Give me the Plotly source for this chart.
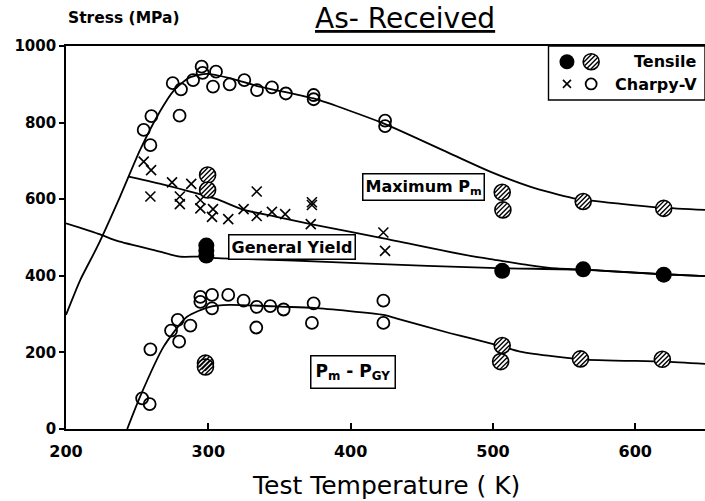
import math
import plotly.graph_objects as go

# ---------------- data ----------------
# Charpy-V open circles: maximum load P_m
cv_max_T = [254.6, 259.3, 260, 275, 279.8, 280.8, 289.3, 295.3, 296, 303.3, 305.4, 315, 325.3, 334.2, 344.7, 354.5, 374, 374, 424.2, 424.2]
cv_max_S = [781, 741, 817, 903, 818, 887, 911, 946, 930, 894, 933, 900, 911, 885, 892, 876, 872, 861, 805, 791]

# Charpy-V open circles: P_m - P_GY
cv_low_T = [253.5, 258.8, 259.3, 273.8, 278.5, 279.5, 287.4, 294.4, 294.4, 302.6, 302.6, 314, 324.8, 333.7, 334, 343.5, 352.9, 372.8, 374, 423, 423]
cv_low_S = [80, 65, 208, 257, 285, 228, 270, 345, 332, 350, 315, 350, 335, 265, 319, 321, 312, 277, 328, 335, 277]

# Charpy-V crosses: general yield
cv_gy_T = [254.6, 259.8, 259.3, 274.5, 280, 280, 288, 294.4, 294.4, 303.3, 302.6, 314, 324.8, 334, 334, 344.7, 354, 372.8, 372.8, 372, 423, 424.2]
cv_gy_S = [698, 676, 607, 644, 607, 587, 640, 598, 576, 574, 554, 548, 574, 620, 556, 567, 561, 592, 585, 535, 513, 465]

# Tensile: general yield (filled)
ten_gy_T = [298.6, 298.6, 298.6, 506.5, 563.4, 620]
ten_gy_S = [479, 466, 453, 413, 417, 403]

# Tensile: maximum (hatched)
ten_max_T = [299.5, 299.5, 506.5, 507, 563.4, 620]
ten_max_S = [663, 624, 618, 572, 594, 576]

# Tensile: P_m - P_GY (hatched)
ten_low_T = [298, 298, 506.5, 505.4, 561.5, 619]
ten_low_S = [172, 162, 218, 176, 183, 182]

# Fitted curves
curve_max_T = [200, 210, 222, 238, 252, 266, 276, 287, 299, 315, 336, 374, 423, 470, 498, 526, 556, 590, 619, 649]
curve_max_S = [298, 389, 476, 607, 728, 829, 885, 918, 927, 916, 894, 863, 798, 719, 672, 633, 603, 588, 578, 572]

curve_cgy_T = [244, 270, 292, 306, 325, 348, 372, 423, 484, 503, 525, 545, 563, 620, 649]
curve_cgy_S = [659, 637, 615, 600, 572, 554, 535, 498, 452, 441, 428, 419, 416, 404, 399]

curve_tgy_T = [200, 224, 236, 266, 280, 294, 306, 360, 404, 503, 563, 620, 649]
curve_tgy_S = [537, 508, 491, 463, 450, 450, 446, 440, 433, 420, 416, 404, 399]

curve_low_T = [243, 252, 268.6, 285, 301, 315, 355, 374, 423, 432, 470, 484, 507, 519, 561, 620, 649]
curve_low_S = [0, 84, 215, 293, 319, 324, 319, 316, 298, 289, 250, 237, 215, 202, 182, 176, 170]

x_ticks = [200, 300, 400, 500, 600]
y_ticks = [0, 200, 400, 600, 800, 1000]

# ---------------- layout constants ----------------
W, H = 705, 501
ML, MR, MT, MB = 66, 0, 46, 72
XR = [200, 649]
YR = [0, 1000]
plot_w = W - ML - MR
plot_h = H - MT - MB
px_x = (XR[1] - XR[0]) / plot_w
px_y = (YR[1] - YR[0]) / plot_h

FONT = "DejaVu Sans"
BLACK = "black"

fig = go.Figure()

# curves
for tx, sy in [(curve_max_T, curve_max_S), (curve_tgy_T, curve_tgy_S),
               (curve_cgy_T, curve_cgy_S), (curve_low_T, curve_low_S)]:
    fig.add_trace(go.Scatter(x=tx, y=sy, mode="lines",
                             line=dict(color=BLACK, width=1.8, shape="spline", smoothing=0.6),
                             hoverinfo="skip", showlegend=False))

# Charpy circles
fig.add_trace(go.Scatter(x=cv_max_T + cv_low_T, y=cv_max_S + cv_low_S, mode="markers",
                         marker=dict(symbol="circle-open", size=12, color=BLACK, line=dict(width=1.8)),
                         showlegend=False))
# Charpy crosses
fig.add_trace(go.Scatter(x=cv_gy_T, y=cv_gy_S, mode="markers",
                         marker=dict(symbol="x-thin-open", size=10, color=BLACK, line=dict(width=1.6, color=BLACK)),
                         showlegend=False))
# Tensile filled
fig.add_trace(go.Scatter(x=ten_gy_T, y=ten_gy_S, mode="markers",
                         marker=dict(symbol="circle", size=16, color=BLACK, line=dict(width=0)),
                         showlegend=False))

# legend key positions (data coords)
leg_x1, leg_x2 = 552, 569
leg_y1, leg_y2 = 959, 901
fig.add_trace(go.Scatter(x=[leg_x1], y=[leg_y1], mode="markers",
                         marker=dict(symbol="circle", size=15, color=BLACK, line=dict(width=0)),
                         showlegend=False))
fig.add_trace(go.Scatter(x=[leg_x1], y=[leg_y2], mode="markers",
                         marker=dict(symbol="x-thin-open", size=8, color=BLACK, line=dict(width=1.6, color=BLACK)),
                         showlegend=False))
fig.add_trace(go.Scatter(x=[leg_x2], y=[leg_y2], mode="markers",
                         marker=dict(symbol="circle-open", size=11, color=BLACK, line=dict(width=1.8)),
                         showlegend=False))

# hatched tensile markers
hat_T = ten_max_T + ten_low_T + [leg_x2]
hat_S = ten_max_S + ten_low_S + [leg_y1]
HS = 16
R = HS / 2
fig.add_trace(go.Scatter(x=hat_T, y=hat_S, mode="markers",
                         marker=dict(symbol="circle", size=HS, color="white", line=dict(width=1.6, color=BLACK)),
                         showlegend=False))
offsets = [-5.0, -1.7, 1.7, 5.0]
layout_extra = {}
for i, d in enumerate(offsets):
    n = i + 2
    s = d / math.sqrt(2)
    half = math.sqrt(max(R * R - d * d, 1)) - 0.6
    size = half * math.sqrt(2)
    layout_extra[f"xaxis{n}"] = dict(overlaying="x", range=[XR[0] - s * px_x, XR[1] - s * px_x],
                                     visible=False, fixedrange=True)
    layout_extra[f"yaxis{n}"] = dict(overlaying="y", range=[YR[0] + s * px_y, YR[1] + s * px_y],
                                     visible=False, fixedrange=True)
    fig.add_trace(go.Scatter(x=hat_T, y=hat_S, xaxis=f"x{n}", yaxis=f"y{n}", mode="markers",
                             marker=dict(symbol="line-ne", size=size, color=BLACK,
                                         line=dict(width=1.4, color=BLACK)),
                             showlegend=False, hoverinfo="skip"))

annotations = [
    dict(text="As- Received", xref="paper", yref="paper", x=(405 - ML) / plot_w, y=1 + (MT - 19) / plot_h,
         showarrow=False, font=dict(family=FONT, size=28, color=BLACK, lineposition="under"),
         xanchor="center", yanchor="middle"),
    dict(text="Stress (MPa)", xref="paper", yref="paper", x=(66 - ML) / plot_w, y=1 + (MT - 18) / plot_h,
         showarrow=False, font=dict(family=FONT, size=15.5, color=BLACK, weight="bold"),
         xanchor="left", yanchor="middle"),
    dict(text="Test Temperature ( K)", xref="paper", yref="paper", x=(386 - ML) / plot_w,
         y=-(485 - (H - MB)) / plot_h, showarrow=False,
         font=dict(family=FONT, size=25, color=BLACK), xanchor="center", yanchor="middle"),
    dict(text="Tensile", xref="paper", yref="paper", x=(699 - ML) / plot_w, y=1 - (62 - MT) / plot_h,
         showarrow=False, font=dict(family=FONT, size=16, color=BLACK, weight="bold"),
         xanchor="right", yanchor="middle"),
    dict(text="Charpy-V", xref="paper", yref="paper", x=(699 - ML) / plot_w, y=1 - (84 - MT) / plot_h,
         showarrow=False, font=dict(family=FONT, size=16, color=BLACK, weight="bold"),
         xanchor="right", yanchor="middle"),
    dict(text="Maximum P<sub>m</sub>", x=451, y=633, xref="x", yref="y", showarrow=False,
         font=dict(family=FONT, size=16, color=BLACK, weight="bold"),
         bordercolor=BLACK, borderwidth=1.5, borderpad=2, bgcolor="white"),
    dict(text="General Yield", x=358.6, y=475, xref="x", yref="y", showarrow=False,
         font=dict(family=FONT, size=16, color=BLACK, weight="bold"),
         bordercolor=BLACK, borderwidth=1.5, borderpad=2, bgcolor="white"),
    dict(text="P<sub>m</sub> - P<sub>GY</sub>", x=401.4, y=149, xref="x", yref="y", showarrow=False,
         font=dict(family=FONT, size=17, color=BLACK, weight="bold"),
         bordercolor=BLACK, borderwidth=1.5, borderpad=4, bgcolor="white"),
]

shapes = [
    dict(type="rect", xref="paper", yref="paper", x0=(548.5 - ML) / plot_w, x1=1.0,
         y0=1 - (100 - MT) / plot_h, y1=1.0, line=dict(color=BLACK, width=1.4)),
]

fig.update_layout(
    width=W, height=H,
    margin=dict(l=ML, r=MR, t=MT, b=MB),
    paper_bgcolor="white", plot_bgcolor="white",
    showlegend=False,
    xaxis=dict(range=XR, tickvals=x_ticks, ticktext=[str(v) for v in x_ticks],
               showgrid=False, zeroline=False, showline=True, linecolor=BLACK, linewidth=1.6,
               mirror=True, ticks="inside", ticklen=6, tickwidth=1.5, tickcolor=BLACK,
               ticklabelstandoff=7,
               tickfont=dict(family=FONT, size=16, color=BLACK, weight="bold"), fixedrange=True),
    yaxis=dict(range=YR, tickvals=y_ticks, ticktext=[str(v) for v in y_ticks],
               showgrid=False, zeroline=False, showline=True, linecolor=BLACK, linewidth=1.6,
               ticks="outside", ticklen=5, tickwidth=1.5, tickcolor=BLACK,
               tickfont=dict(family=FONT, size=15, color=BLACK, weight="bold"), fixedrange=True),
    annotations=annotations,
    shapes=shapes,
    **layout_extra,
)

fig.write_html("out.html")
